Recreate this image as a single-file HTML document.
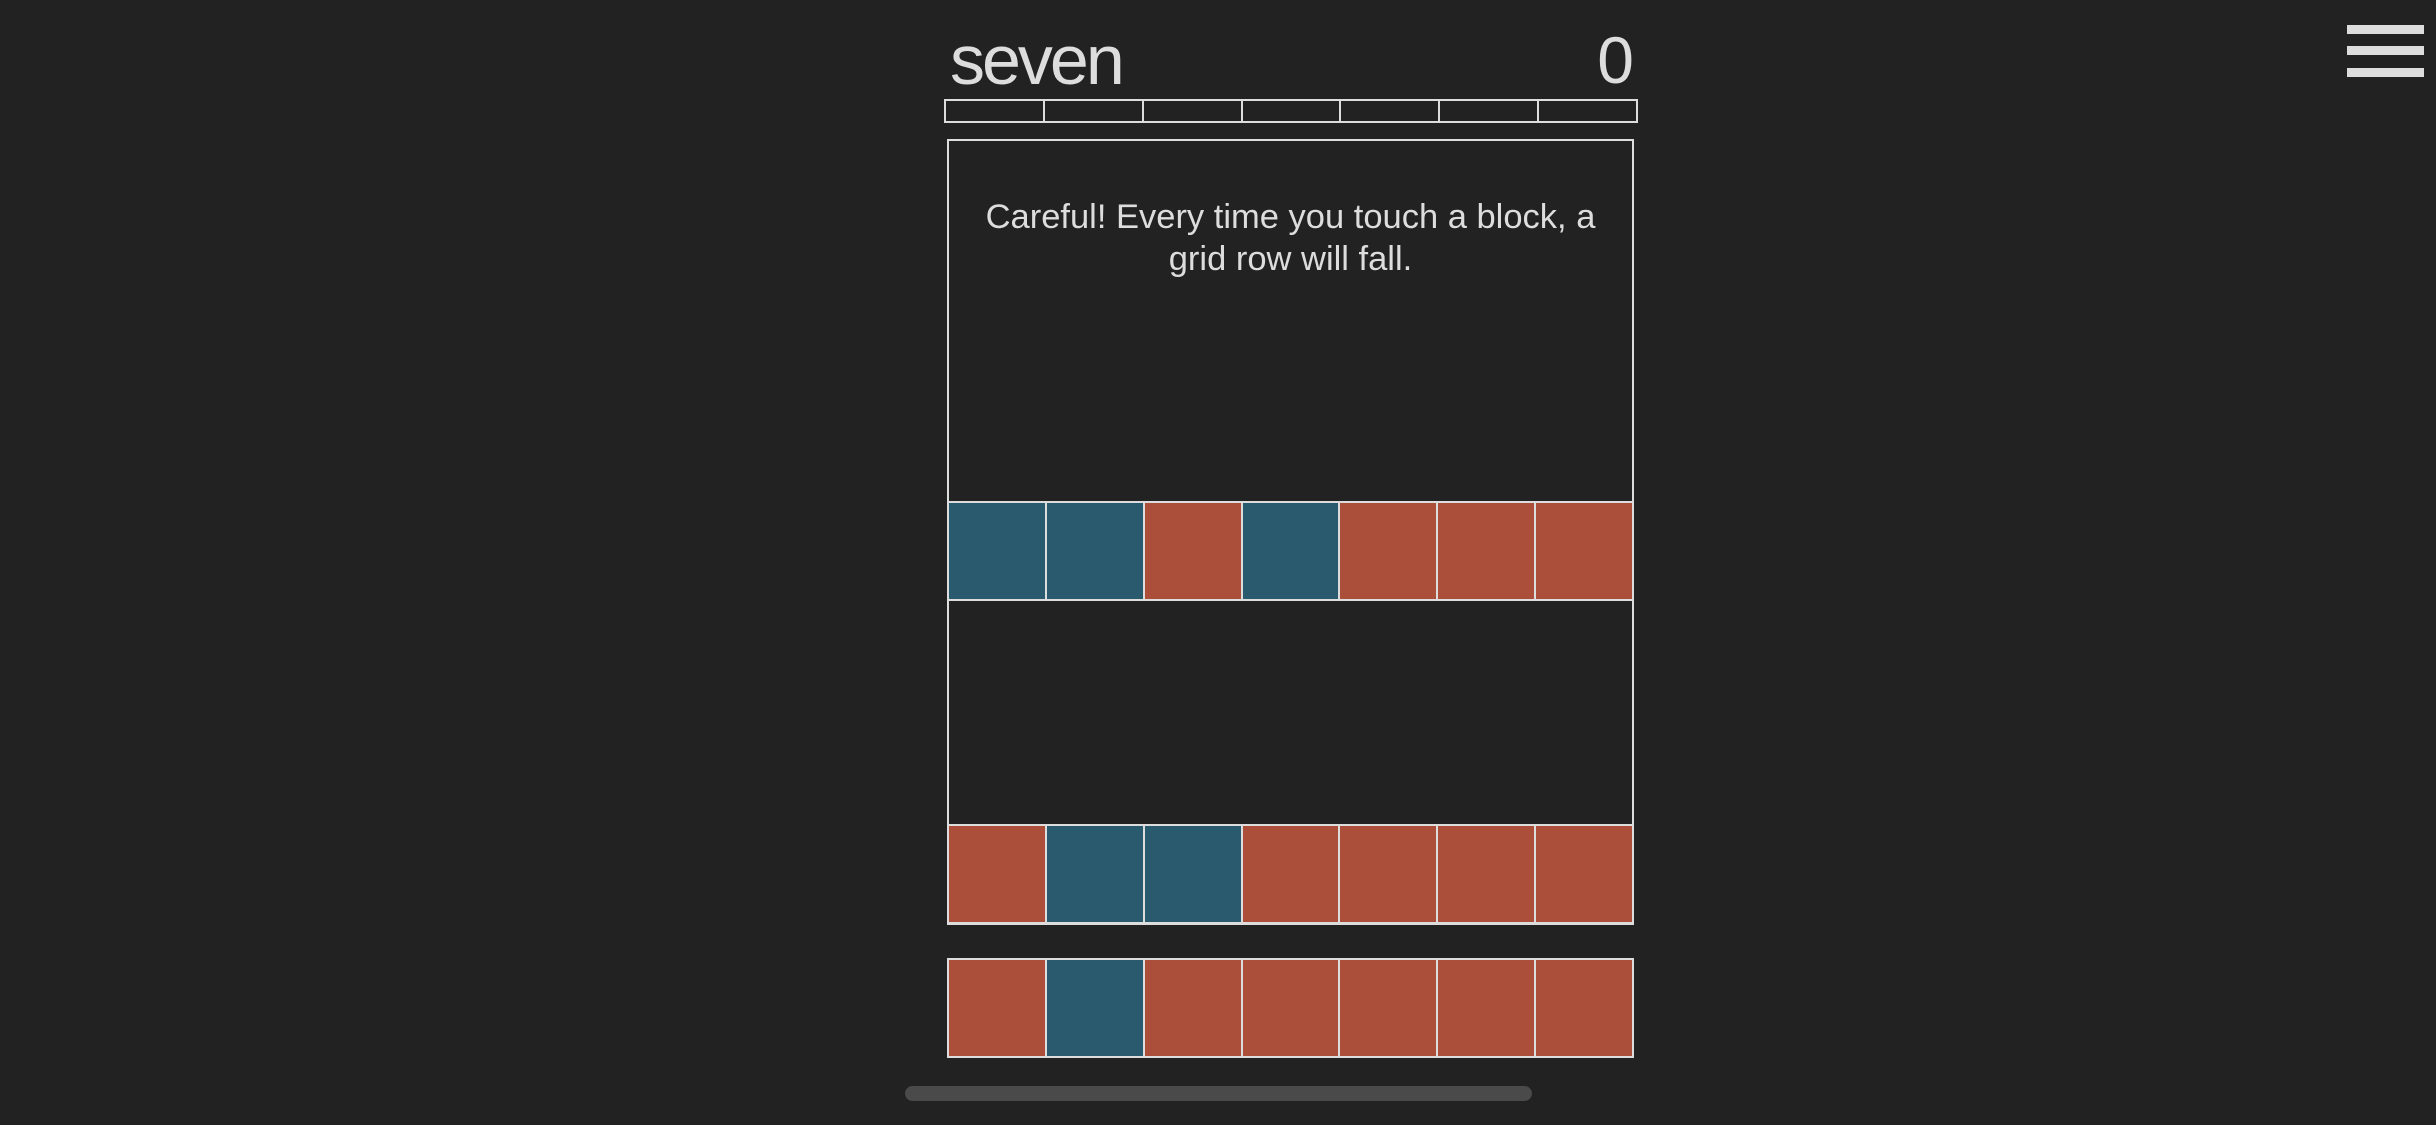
<!DOCTYPE html>
<html><head><meta charset="utf-8"><style>
html,body{margin:0;padding:0;background:#222;width:2436px;height:1125px;overflow:hidden;font-family:"Liberation Sans",sans-serif;color:#ddd}
.abs{position:absolute;box-sizing:border-box}
.cell{position:absolute;box-sizing:border-box;border:2px solid #ddd}
</style></head><body>
<div class="abs" style="left:950px;top:15px;font-size:70px;letter-spacing:-3px;line-height:90px;">seven</div>
<div class="abs" style="left:1500px;width:134px;text-align:right;top:15px;font-size:66px;line-height:90px;">0</div>
<div class="abs" style="left:2347px;top:25px;width:77px;height:52px;">
  <div class="abs" style="left:0;top:0;width:77px;height:9px;background:#ddd"></div>
  <div class="abs" style="left:0;top:21px;width:77px;height:9px;background:#ddd"></div>
  <div class="abs" style="left:0;top:43px;width:77px;height:9px;background:#ddd"></div>
</div>
<div id="progress" class="abs" style="left:944px;top:99px;width:694px;height:24px;"></div>
<div id="board" class="abs" style="left:947px;top:139px;width:687px;height:786px;border:2px solid #ddd;"></div>
<div class="abs" style="left:950px;width:681px;top:196px;text-align:center;font-size:34.5px;line-height:42px;">Careful! Every time you touch a block, a<br>grid row will fall.</div>
<div class="abs" style="left:905px;top:1086px;width:627px;height:15px;border-radius:8px;background:#4a4a4a"></div>
<script>
const row1 = ['b','b','r','b','r','r','r'];
const row2 = ['r','b','b','r','r','r','r'];
const row3 = ['r','b','r','r','r','r','r'];
const colors = {r:'#ab4f3b', b:'#2a5a6d'};
const X0 = 947, CW = 97.86, CH = 100;
function addRow(arr, top){
  arr.forEach((c,i)=>{
    const el=document.createElement('div');
    el.className='cell';
    
    
    el.style.left=(X0+i*CW)+'px';el.style.top=top+'px';
    el.style.width=(CW+2)+'px';el.style.height=CH+'px';
    el.style.background=colors[c];
    document.body.appendChild(el);
  });
}
addRow(row1,501);
addRow(row2,824);
addRow(row3,958);
const prog=document.getElementById('progress');
for(let i=0;i<7;i++){
  const s=document.createElement('div');
  s.className='cell';
  
  
  s.style.left=(i*98.86)+'px';s.style.top='0px';s.style.width='100.86px';s.style.height='24px';
  prog.appendChild(s);
}
</script>
</body></html>
